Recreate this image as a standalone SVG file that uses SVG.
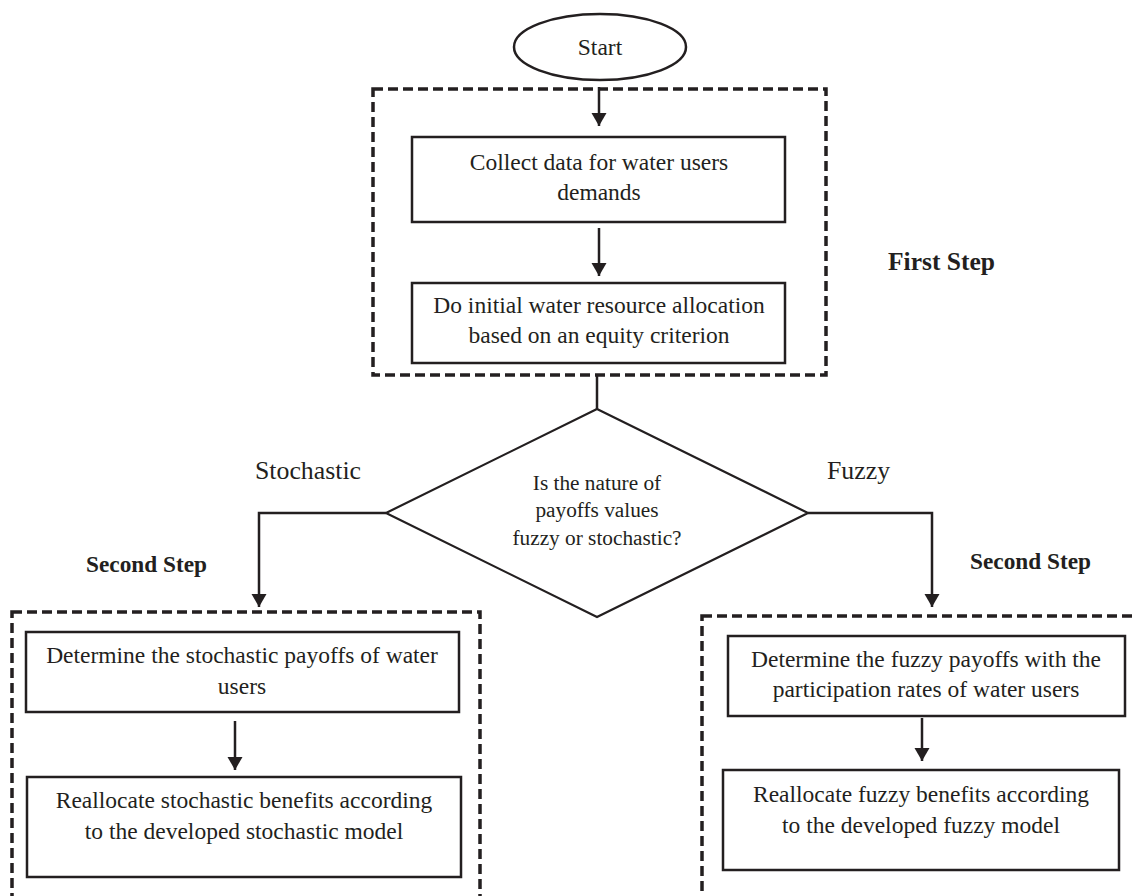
<svg xmlns="http://www.w3.org/2000/svg" width="1134" height="896" viewBox="0 0 1134 896">
<style>
text{font-family:"Liberation Serif","Times New Roman",serif;fill:#231f20}
.t{font-size:23.5px;text-anchor:middle}
.d{font-size:21.3px;text-anchor:middle}
.lab{font-size:25.8px}
.b{font-weight:bold}
.box{fill:#fff;stroke:#231f20;stroke-width:2.5}
.dash{fill:none;stroke:#231f20;stroke-width:3.5;stroke-dasharray:10,5}
.c{fill:none;stroke:#231f20;stroke-width:2.5}
</style>
<defs>
<marker id="ah" markerUnits="userSpaceOnUse" markerWidth="14" markerHeight="16" refX="13" refY="7.5" orient="auto" viewBox="0 0 14 16">
<path d="M0,0 L13,7.5 L0,15 z" fill="#231f20"/>
</marker>
</defs>
<rect width="1134" height="896" fill="#fff"/>
<g id="group-first">
<rect class="dash" x="373" y="89" width="453" height="286"/>
<text class="b" x="888" y="270" style="font-size:25.5px">First Step</text>
</g>
<g id="group-second-left">
<rect class="dash" x="12" y="612" width="468" height="300"/>
<text class="b" x="86" y="572" style="font-size:23.3px">Second Step</text>
</g>
<g id="group-second-right">
<rect class="dash" x="702" y="616" width="460" height="300"/>
<text class="b" x="970" y="569" style="font-size:23.3px">Second Step</text>
</g>
<g id="start">
<ellipse cx="600" cy="47" rx="86" ry="33" fill="#fff" stroke="#231f20" stroke-width="2.5"/>
<text class="t" x="600" y="55">Start</text>
</g>
<g id="collect">
<rect class="box" x="412" y="137" width="373" height="85"/>
<text class="t" x="599" y="170">Collect data for water users</text>
<text class="t" x="599" y="200">demands</text>
</g>
<g id="initial">
<rect class="box" x="412" y="283" width="373" height="80"/>
<text class="t" x="599" y="313">Do initial water resource allocation</text>
<text class="t" x="599" y="343">based on an equity criterion</text>
</g>
<g id="decision">
<polygon points="597,409 808,513 597,617 386,513" fill="#fff" stroke="#231f20" stroke-width="2.2"/>
<text class="d" x="597" y="490">Is the nature of</text>
<text class="d" x="597" y="517">payoffs values</text>
<text class="d" x="597" y="545">fuzzy or stochastic?</text>
</g>
<g id="stoch-payoffs">
<rect class="box" x="26" y="632" width="433" height="80"/>
<text class="t" x="242" y="663">Determine the stochastic payoffs of water</text>
<text class="t" x="242" y="694">users</text>
</g>
<g id="stoch-realloc">
<rect class="box" x="27" y="777" width="434" height="100"/>
<text class="t" x="244" y="808">Reallocate stochastic benefits according</text>
<text class="t" x="244" y="839">to the developed stochastic model</text>
</g>
<g id="fuzzy-payoffs">
<rect class="box" x="728" y="636" width="397" height="80"/>
<text class="t" x="926" y="667">Determine the fuzzy payoffs with the</text>
<text class="t" x="926" y="697">participation rates of water users</text>
</g>
<g id="fuzzy-realloc">
<rect class="box" x="723" y="770" width="396" height="100"/>
<text class="t" x="921" y="802">Reallocate fuzzy benefits according</text>
<text class="t" x="921" y="833">to the developed fuzzy model</text>
</g>
<g id="connectors">
<path class="c" d="M599,87 V126" marker-end="url(#ah)"/>
<path class="c" d="M599,228 V276" marker-end="url(#ah)"/>
<path class="c" d="M597,375 V409"/>
<path class="c" d="M386,513 H259 V607" marker-end="url(#ah)"/>
<path class="c" d="M808,513 H932 V607" marker-end="url(#ah)"/>
<path class="c" d="M235,721 V770" marker-end="url(#ah)"/>
<path class="c" d="M922,718 V761" marker-end="url(#ah)"/>
<text class="lab" x="255" y="479">Stochastic</text>
<text class="lab" x="827" y="479">Fuzzy</text>
</g>
</svg>
